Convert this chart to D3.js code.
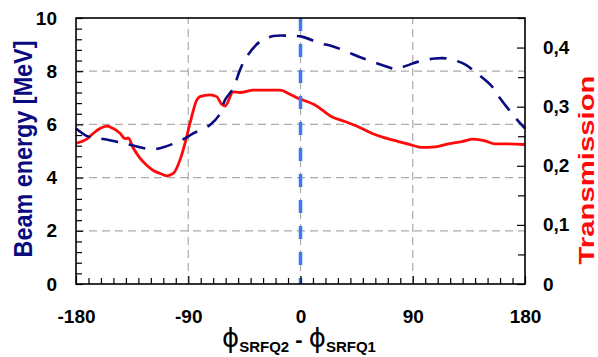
<!DOCTYPE html>
<html>
<head>
<meta charset="utf-8">
<script src="https://cdn.jsdelivr.net/npm/d3@7"></script>
<style>
  html, body { margin: 0; padding: 0; background: #fff; }
  svg { display: block; font-family: "Liberation Sans", Arial, Helvetica, sans-serif; }
</style>
</head>
<body>
<svg id="chart" width="598" height="357"></svg>
<script>
// ---- data ----
const energyPhase = [-180, -170, -156.7, -143.4, -132.7, -119.3, -110, -95.3, -86, -72.6, -64.5, -60.5, -53.9, -48.5, -43.1, -32.5, -21.8, -8.4, 1.0, 15.6, 25.0, 38.3, 46.3, 61.1, 71.8, 75.8, 85.1, 94.5, 107.8, 117.2, 131.9, 139.9, 153.3, 158.6, 169.3, 177.4, 180];
const energyMeV   = [5.85, 5.54, 5.44, 5.31, 5.19, 5.06, 5.14, 5.41, 5.66, 5.98, 6.40, 6.92, 7.36, 8.05, 8.55, 9.11, 9.32, 9.33, 9.30, 9.05, 8.95, 8.71, 8.55, 8.30, 8.13, 8.07, 8.21, 8.36, 8.48, 8.48, 8.26, 7.98, 7.44, 7.07, 6.42, 5.98, 5.85];

const transPhase = [-180, -175.4, -171.4, -166.1, -160.8, -155.4, -150.1, -144.7, -140.7, -138.1, -134.1, -128.7, -123.3, -118.0, -112.6, -107.3, -102.0, -96.6, -92.6, -88.6, -83.2, -80.6, -72.6, -67.2, -63.2, -60.5, -53.9, -48.5, -37.8, -27.1, -16.4, -8.4, -1.7, 1.0, 11.6, 25.0, 35.7, 46.3, 57.1, 66.4, 78.4, 89.2, 97.2, 107.8, 118.5, 129.3, 138.6, 148.0, 156.0, 166.6, 180];
const transValue = [0.238, 0.241, 0.245, 0.255, 0.263, 0.267, 0.263, 0.255, 0.246, 0.247, 0.230, 0.213, 0.201, 0.192, 0.187, 0.183, 0.187, 0.210, 0.238, 0.272, 0.311, 0.317, 0.320, 0.317, 0.304, 0.301, 0.325, 0.324, 0.328, 0.328, 0.328, 0.321, 0.314, 0.312, 0.303, 0.283, 0.275, 0.266, 0.255, 0.248, 0.241, 0.235, 0.231, 0.232, 0.237, 0.241, 0.245, 0.242, 0.237, 0.237, 0.236];

const xTicks = [-180, -90, 0, 90, 180];
const xGrid = [-90, 0, 90];
const yLeftTicks = [0, 2, 4, 6, 8, 10];
const yLeftGrid = [2, 4, 6, 8];
const yRightTicks = [0, 0.1, 0.2, 0.3, 0.4];
const markerPhase = 0;

// ---- layout ----
const L = 76, R = 525, T = 18, B = 284;

const svg = d3.select("#chart");
const x = d3.scaleLinear().domain([-180, 180]).range([L, R]);
const yL = d3.scaleLinear().domain([0, 10]).range([B, T]);
const yR = d3.scaleLinear().domain([0, 0.45]).range([B, T]);

// grid
const grid = svg.append("g").attr("stroke", "#ababab").attr("stroke-width", 1.2).attr("stroke-dasharray", "8,5");
grid.selectAll("line.h").data(yLeftGrid).join("line")
  .attr("x1", L).attr("x2", R).attr("y1", d => yL(d)).attr("y2", d => yL(d));
grid.selectAll("line.v").data(xGrid).join("line")
  .attr("y1", B).attr("y2", T).attr("x1", d => x(d)).attr("x2", d => x(d));

// transmission (red)
const tLine = d3.line().x((d, i) => x(transPhase[i])).y(d => yR(d)).curve(d3.curveMonotoneX);
svg.append("path").datum(transValue).attr("d", tLine)
  .attr("fill", "none").attr("stroke", "#ff0a0a").attr("stroke-width", 2.8).attr("stroke-linejoin", "round");

// energy (navy dashed)
const eLine = d3.line().x((d, i) => x(energyPhase[i])).y(d => yL(d)).curve(d3.curveCatmullRom);
svg.append("path").datum(energyMeV).attr("d", eLine)
  .attr("fill", "none").attr("stroke", "#0a0a82").attr("stroke-width", 2.6).attr("stroke-dasharray", "17,11");

// blue vertical marker at 0
svg.append("line").attr("x1", x(markerPhase)).attr("x2", x(markerPhase)).attr("y1", T).attr("y2", B)
  .attr("stroke", "#3d7af2").attr("stroke-width", 3.5).attr("stroke-dasharray", "13,13");

// axes
const fmtR = d => d === 0 ? "0" : d3.format(".1f")(d).replace(".", ",");
const fmtInt = d => String(d);
function styleAxis(g) {
  g.select(".domain").remove();
  g.selectAll(".tick line").attr("stroke", "#000").attr("stroke-width", 1.2);
  g.selectAll(".tick text").attr("fill", "#000").attr("font-size", 19).attr("font-weight", "bold")
    .attr("font-family", "'Liberation Sans', Arial, sans-serif");
}
const leftMinor = d3.range(0, 10.001, 0.4).filter(v => Math.abs(v / 2 - Math.round(v / 2)) > 1e-6);
const bottomMinor = d3.range(-180, 181, 10).filter(v => v % 90 !== 0);
const rightMinor = [0.05, 0.15, 0.25, 0.35, 0.45];

svg.append("g").attr("transform", `translate(${L},0)`)
  .call(d3.axisLeft(yL).tickValues(yLeftTicks).tickSizeInner(-7).tickSizeOuter(0).tickPadding(19).tickFormat(fmtInt))
  .call(styleAxis);
svg.append("g").attr("transform", `translate(${L},0)`)
  .call(d3.axisLeft(yL).tickValues(leftMinor).tickSizeInner(-6).tickSizeOuter(0).tickFormat(""))
  .call(styleAxis);

svg.append("g").attr("transform", `translate(${R},0)`)
  .call(d3.axisRight(yR).tickValues(yRightTicks).tickSizeInner(-8).tickSizeOuter(0).tickPadding(18).tickFormat(fmtR))
  .call(styleAxis);
svg.append("g").attr("transform", `translate(${R},0)`)
  .call(d3.axisRight(yR).tickValues(rightMinor).tickSizeInner(-7).tickSizeOuter(0).tickFormat(""))
  .call(styleAxis);

svg.append("g").attr("transform", `translate(0,${B})`)
  .call(d3.axisBottom(x).tickValues(xTicks).tickSizeInner(-8).tickSizeOuter(0).tickPadding(26).tickFormat(fmtInt))
  .call(styleAxis);
svg.append("g").attr("transform", `translate(0,${B})`)
  .call(d3.axisBottom(x).tickValues(bottomMinor).tickSizeInner(-6).tickSizeOuter(0).tickFormat(""))
  .call(styleAxis);

// frame
svg.append("rect").attr("x", L).attr("y", T).attr("width", R - L).attr("height", B - T)
  .attr("fill", "none").attr("stroke", "#000").attr("stroke-width", 1.6);

// titles
svg.append("text")
  .attr("transform", `translate(32,149) rotate(-90)`)
  .attr("text-anchor", "middle").attr("font-size", 25).attr("font-weight", "bold")
  .attr("textLength", 217).attr("lengthAdjust", "spacingAndGlyphs")
  .attr("fill", "#0b0b80").text("Beam energy [MeV]");

svg.append("text")
  .attr("transform", `translate(593.5,170) rotate(-90)`)
  .attr("text-anchor", "middle").attr("font-size", 21.5).attr("font-weight", "bold")
  .attr("textLength", 189).attr("lengthAdjust", "spacingAndGlyphs")
  .attr("fill", "#ff0a0a").text("Transmission");

const xt = svg.append("text").attr("x", 299).attr("y", 347).attr("text-anchor", "middle")
  .attr("font-weight", "bold").attr("fill", "#000");
xt.append("tspan").attr("font-size", 26).attr("font-family", "'DejaVu Sans', sans-serif").attr("font-weight", "normal").text("\u03D5");
xt.append("tspan").attr("font-size", 15).attr("dy", 5).text("SRFQ2");
xt.append("tspan").attr("font-size", 22).attr("dy", -5).text(" - ");
xt.append("tspan").attr("font-size", 26).attr("font-family", "'DejaVu Sans', sans-serif").attr("font-weight", "normal").text("\u03D5");
xt.append("tspan").attr("font-size", 15).attr("dy", 5).text("SRFQ1");
</script>
</body>
</html>
